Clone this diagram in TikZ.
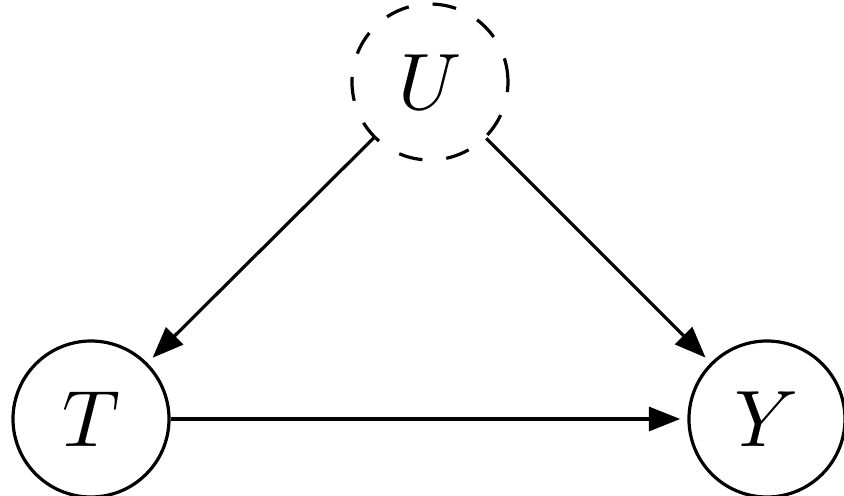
\documentclass[tikz,border=0pt]{standalone}
\usetikzlibrary{arrows.meta}
\begin{document}
\begin{tikzpicture}[x=0.125pt,y=-0.125pt,
  var/.style={circle,draw,line width=0.4pt,minimum size=19.5pt,inner sep=0pt},
  latent/.style={var,dashed},
  edge/.style={line width=0.4pt,-{Triangle[length=3.9pt,width=3pt]},shorten >=0.9pt}]
\useasboundingbox (0,0) rectangle (844,496);
\node[var] (T) at (91,419) {$T$};
\node[var] (Y) at (767,419) {$Y$};
\node[latent] (U) at (430,82) {$U$};
\draw[edge] (T) -- (Y);
\draw[edge] (U) -- (T);
\draw[edge] (U) -- (Y);
\end{tikzpicture}
\end{document}
